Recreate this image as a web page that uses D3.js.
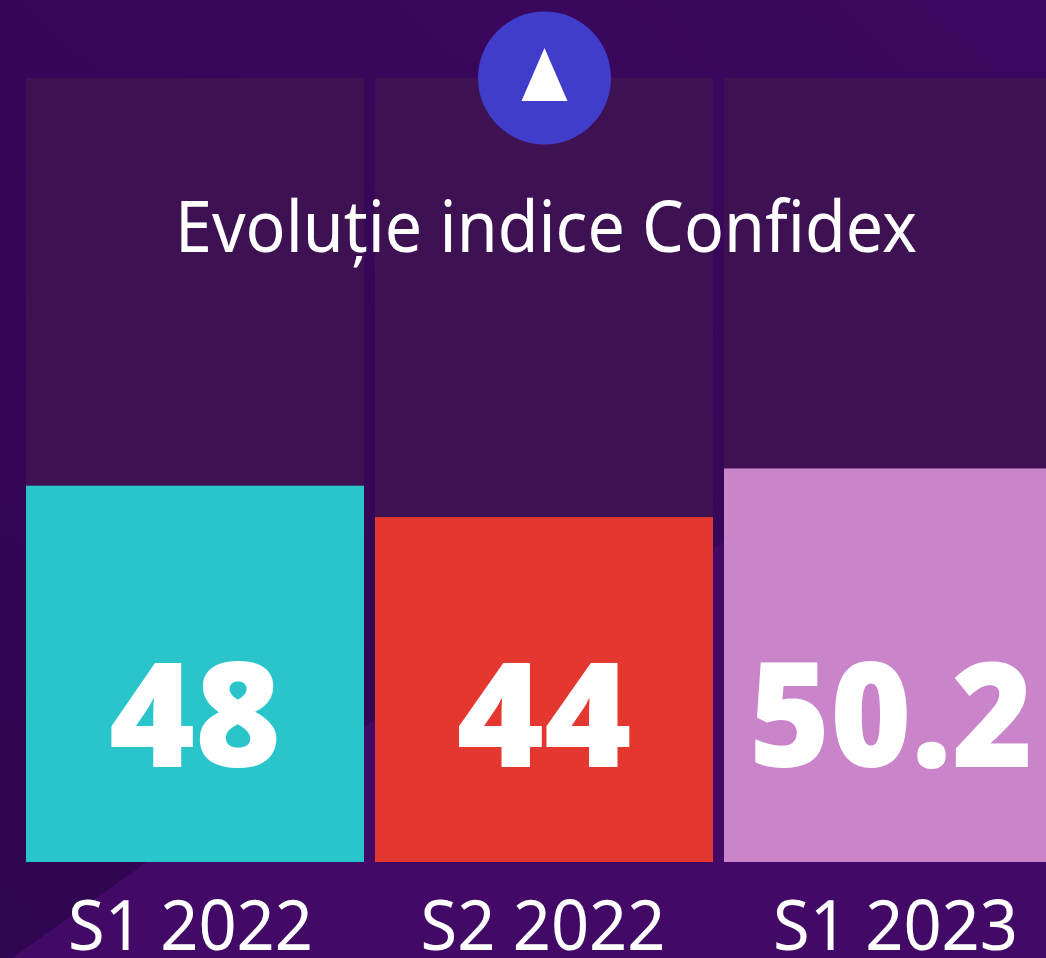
<!DOCTYPE html>
<html>
<head>
<meta charset="utf-8">
<script src="https://cdn.jsdelivr.net/npm/d3@7"></script>
<style>
  html, body { margin: 0; padding: 0; background: #3a0860; overflow: hidden; }
  svg { display: block; }
</style>
</head>
<body>
<div id="container"></div>
<script>
/* CONSTANTS AND GLOBALS */
const width = 1046;
const height = 958;

const periods = ["S1 2022", "S2 2022", "S1 2023"];
const values = [48, 44, 50.2];
const barColors = ["#2ac5cb", "#e4372f", "#c984ca"];
const chartTitle = "Evoluție indice Confidex";

// drawn widths of the value labels, the big font is squeezed to fit these
const valueWidths = [172, 175, 284];
const valueOffsets = [169, 169, 167];

const svg = d3.select("#container")
  .append("svg")
  .attr("width", width)
  .attr("height", height);

// BACKGROUND
const bg = svg.append("defs").append("linearGradient")
  .attr("id", "bg")
  .attr("x1", 1).attr("y1", 0).attr("x2", 0).attr("y2", 1);
bg.append("stop").attr("offset", "0%").attr("stop-color", "#3c0760");
bg.append("stop").attr("offset", "100%").attr("stop-color", "#2f0650");

svg.append("rect")
  .attr("width", width)
  .attr("height", height)
  .attr("fill", "url(#bg)");

// lighter facet along the bottom
svg.append("path")
  .attr("d", "M12,958 L147,862 L370,723 L718,545 L1046,380 L1046,958 Z")
  .attr("fill", "#420a66");

// SCALES
const x = d3.scaleBand()
  .domain(periods)
  .range([26, 1062])
  .paddingInner(11 / 349);

const y = d3.scaleLinear()
  .domain([0, 100])
  .range([862, 78]);

// axis labels do not sit quite under the bar centres
const xLabel = d3.scalePoint()
  .domain(periods)
  .range([190.5, 895.5]);

// TRACKS
svg.selectAll(".track")
  .data(periods)
  .join("rect")
  .attr("class", "track")
  .attr("x", d => x(d))
  .attr("y", y(100))
  .attr("width", x.bandwidth())
  .attr("height", y(0) - y(100))
  .attr("fill", "#3d1152");

// BARS
svg.selectAll(".bar")
  .data(values)
  .join("rect")
  .attr("class", "bar")
  .attr("x", (d, i) => x(periods[i]))
  .attr("y", d => y(d))
  .attr("width", x.bandwidth())
  .attr("height", d => y(0) - y(d))
  .attr("fill", (d, i) => barColors[i]);

// VALUE LABELS
svg.selectAll(".value")
  .data(values)
  .join("text")
  .attr("class", "value")
  .attr("x", (d, i) => x(periods[i]) + valueOffsets[i])
  .attr("y", 767)
  .attr("text-anchor", "middle")
  .attr("font-family", "'Noto Sans', sans-serif")
  .attr("font-weight", 900)
  .attr("font-size", 146)
  .attr("textLength", (d, i) => valueWidths[i])
  .attr("lengthAdjust", "spacingAndGlyphs")
  .attr("fill", "#fff")
  .text(d => d);

// PERIOD LABELS
svg.selectAll(".period")
  .data(periods)
  .join("text")
  .attr("class", "period")
  .attr("x", d => xLabel(d))
  .attr("y", 950)
  .attr("text-anchor", "middle")
  .attr("font-family", "'Noto Sans', sans-serif")
  .attr("font-size", 69)
  .attr("textLength", 245)
  .attr("lengthAdjust", "spacingAndGlyphs")
  .attr("fill", "#fff")
  .text(d => d);

// TITLE
svg.append("text")
  .attr("x", 546)
  .attr("y", 252)
  .attr("text-anchor", "middle")
  .attr("font-family", "'Noto Sans', sans-serif")
  .attr("font-size", 72)
  .attr("textLength", 742)
  .attr("lengthAdjust", "spacingAndGlyphs")
  .attr("fill", "#fff")
  .text(chartTitle);

// BADGE
svg.append("circle")
  .attr("cx", 544.5)
  .attr("cy", 78)
  .attr("r", 66.5)
  .attr("fill", "#413dcb");

svg.append("path")
  .attr("d", d3.symbol(d3.symbolTriangle, 916))
  .attr("transform", "translate(544.5,83.3) scale(1,1.33)")
  .attr("fill", "#fff");
</script>
</body>
</html>
